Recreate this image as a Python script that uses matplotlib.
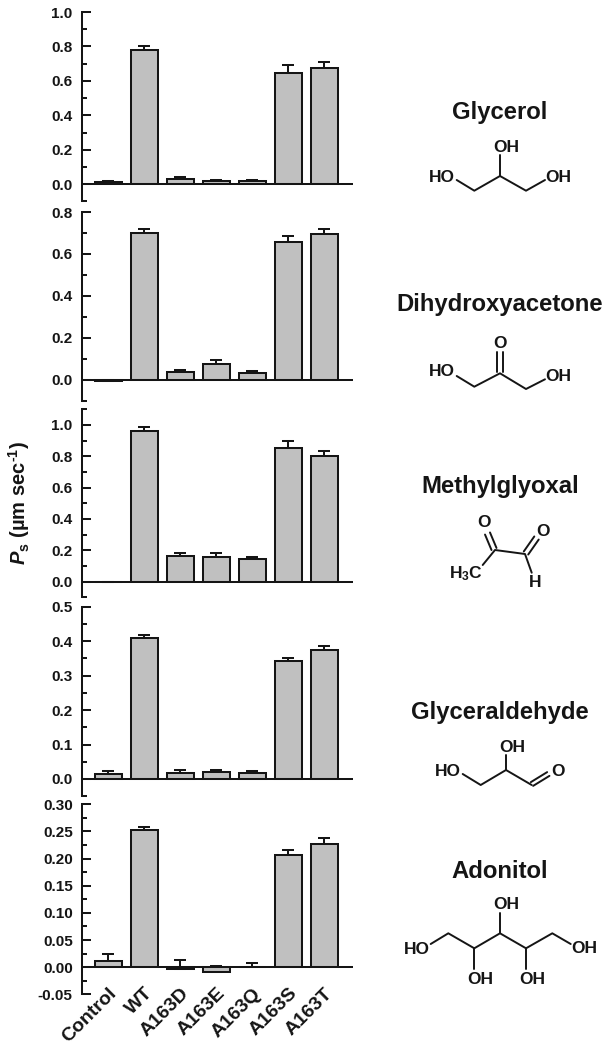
import numpy as np
import matplotlib
matplotlib.use('Agg')
import matplotlib.pyplot as plt
from matplotlib.transforms import ScaledTranslation

plt.rcParams['font.family'] = ['Liberation Sans', 'DejaVu Sans']
plt.rcParams['font.weight'] = 'bold'
plt.rcParams['mathtext.fontset'] = 'custom'
plt.rcParams['mathtext.rm'] = 'Liberation Sans:bold'
plt.rcParams['mathtext.bf'] = 'Liberation Sans:bold'
plt.rcParams['mathtext.bfit'] = 'Liberation Sans:italic:bold'
plt.rcParams['mathtext.it'] = 'Liberation Sans:italic:bold'

INK = '#151515'
LW = 1.45

categories = ['Control', 'WT', 'A163D', 'A163E', 'A163Q', 'A163S', 'A163T']

glycerol = [0.015, 0.780, 0.033, 0.018, 0.017, 0.645, 0.675]
glycerol_err = [0.005, 0.025, 0.008, 0.007, 0.006, 0.050, 0.035]
dha = [-0.005, 0.700, 0.037, 0.073, 0.030, 0.655, 0.695]
dha_err = [0.002, 0.020, 0.010, 0.018, 0.010, 0.030, 0.022]
mgo = [-0.005, 0.960, 0.165, 0.160, 0.143, 0.855, 0.805]
mgo_err = [0.002, 0.030, 0.015, 0.020, 0.013, 0.045, 0.028]
glyceraldehyde = [0.014, 0.408, 0.017, 0.019, 0.016, 0.341, 0.373]
glyceraldehyde_err = [0.008, 0.009, 0.008, 0.008, 0.006, 0.010, 0.012]
adonitol = [0.012, 0.252, -0.004, -0.008, 0.001, 0.206, 0.227]
adonitol_err = [0.012, 0.007, 0.017, 0.010, 0.006, 0.009, 0.011]

# top px, bottom px, ymin, ymax, major step
panels = [
    (glycerol, glycerol_err, 12.0, 201.5, -0.1, 1.0, 0.2),
    (dha, dha_err, 212.0, 400.5, -0.1, 0.8, 0.2),
    (mgo, mgo_err, 409.3, 597.3, -0.1, 1.1, 0.2),
    (glyceraldehyde, glyceraldehyde_err, 606.7, 796.2, -0.05, 0.5, 0.1),
    (adonitol, adonitol_err, 804.3, 994.3, -0.05, 0.30, 0.05),
]

W, H = 612, 1050
X0, X1 = 81.7, 352.7

fig = plt.figure(figsize=(W / 100, H / 100), dpi=100)

for n, (vals, errs, top, bot, ymin, ymax, step) in enumerate(panels):
    ax = fig.add_axes([X0 / W, 1 - bot / H, (X1 - X0) / W, (bot - top) / H])
    x = np.arange(len(categories))
    ax.bar(x, vals, width=0.74, color='#c0c0c0', edgecolor=INK, linewidth=LW, zorder=2)
    ax.errorbar(x, vals, yerr=[np.zeros(len(errs)), errs], fmt='none', ecolor=INK,
                elinewidth=LW, capsize=4.3, capthick=LW, zorder=1)
    ax.axhline(0, color=INK, lw=LW, zorder=3)
    ax.set_xlim(-0.736, 6.79)
    ax.set_ylim(ymin, ymax)
    for s in ['top', 'right', 'bottom']:
        ax.spines[s].set_visible(False)
    ax.spines['left'].set_linewidth(LW)
    ax.spines['left'].set_color(INK)

    first = np.ceil(round(ymin / step, 6))
    majors = np.arange(first, round(ymax / step, 6) + 0.01) * step
    minors = np.arange(np.floor(round(ymin / (step / 2), 6)),
                       round(ymax / (step / 2), 6) + 0.01) * (step / 2)
    ax.set_yticks(majors)
    ax.set_yticks(minors, minor=True)
    fmt = '%.2f' if n == 4 else '%.1f'
    ax.set_yticklabels([fmt % (round(m, 2) + 0.0) for m in majors], fontsize=11, color=INK)
    ax.tick_params(axis='y', which='major', direction='in', length=6.6, width=LW, pad=6.5, color=INK)
    ax.tick_params(axis='y', which='minor', direction='in', length=3.6, width=LW, color=INK)

    if n == 4:
        ax.set_xticks(x)
        ax.set_xticklabels(categories, rotation=45, ha='right', va='center',
                           rotation_mode='anchor', fontsize=14, color=INK)
        ax.tick_params(axis='x', length=0, pad=0)
        shift = ScaledTranslation(6 / 100, 3.5 / 100, fig.dpi_scale_trans)
        for lab in ax.get_xticklabels():
            lab.set_transform(lab.get_transform() + shift)
    else:
        ax.set_xticks([])
    ax.patch.set_alpha(0)

fig.text(19 / W, 1 - 503 / H, r'$\mathbfit{P}_{\mathrm{s}}$ (µm sec$^{\text{-1}}$)',
         rotation=90, fontsize=14.5, ha='center', va='center', color=INK)

# structures, drawn in image pixels
st = fig.add_axes([0, 0, 1, 1])
st.set_xlim(0, W)
st.set_ylim(H, 0)
st.axis('off')
st.patch.set_alpha(0)


def bonds(*pts):
    xs, ys = zip(*pts)
    st.plot(xs, ys, color=INK, lw=1.4, solid_capstyle='round', solid_joinstyle='round')


def dbl(p, q, off=2.7):
    p, q = np.array(p, float), np.array(q, float)
    d = q - p
    nrm = np.array([-d[1], d[0]]) / np.hypot(*d) * off
    bonds(p + nrm, q + nrm)
    bonds(p - nrm, q - nrm)


def atom(x, y, s):
    st.text(x, y, s, fontsize=12.5, ha='center', va='center', color=INK)


titles = [('Glycerol', 113), ('Dihydroxyacetone', 304), ('Methylglyoxal', 487),
          ('Glyceraldehyde', 713), ('Adonitol', 872)]
for t, y in titles:
    st.text(500, y, t, fontsize=17.2, ha='center', va='center', color=INK)

# glycerol
bonds((456.7, 180), (474.3, 190.7), (500, 176), (526, 190.7), (545, 180))
bonds((500, 176), (500, 155))
atom(441.7, 177.3, 'HO')
atom(558.3, 177.3, 'OH')
atom(506.7, 147.3, 'OH')

# dihydroxyacetone
bonds((456.7, 376), (474.3, 386.7), (500, 373.3), (526, 389), (545, 379.3))
dbl((500, 372), (500, 351.7))
atom(442.3, 371.7, 'HO')
atom(558.3, 376.7, 'OH')
atom(500.3, 344, 'O')

# methylglyoxal
bonds((482.7, 565), (495, 550), (525, 554), (531.7, 572.7))
dbl((494, 549), (487.5, 533.5))
dbl((526, 553), (536.5, 538))
atom(543.3, 531.7, 'O')
atom(484.3, 522.7, 'O')
atom(535, 582.7, 'H')
st.text(466, 574, r'H$_{\mathrm{3}}$C', fontsize=12.5, ha='center', va='center', color=INK)

# glyceraldehyde
bonds((462.7, 774), (480.7, 785), (506, 770), (531.7, 785))
bonds((506, 770), (506, 755))
dbl((532, 784), (548.3, 774), off=2.2)
atom(448.3, 771, 'HO')
atom(558.3, 771, 'O')
atom(512.3, 747.3, 'OH')

# adonitol
bonds((430.7, 944), (448.3, 933.3), (474.3, 948.3), (500, 933.3), (526, 948.3), (552.3, 933.3), (570.7, 944))
bonds((474.3, 948.3), (474.3, 969.3))
bonds((526, 948.3), (526, 969.3))
bonds((500, 933.3), (500, 913.3))
atom(416.7, 949.3, 'HO')
atom(584, 948.7, 'OH')
atom(480.7, 979, 'OH')
atom(532.3, 979, 'OH')
atom(506.7, 904.3, 'OH')

fig.savefig('out.png', dpi=100)
